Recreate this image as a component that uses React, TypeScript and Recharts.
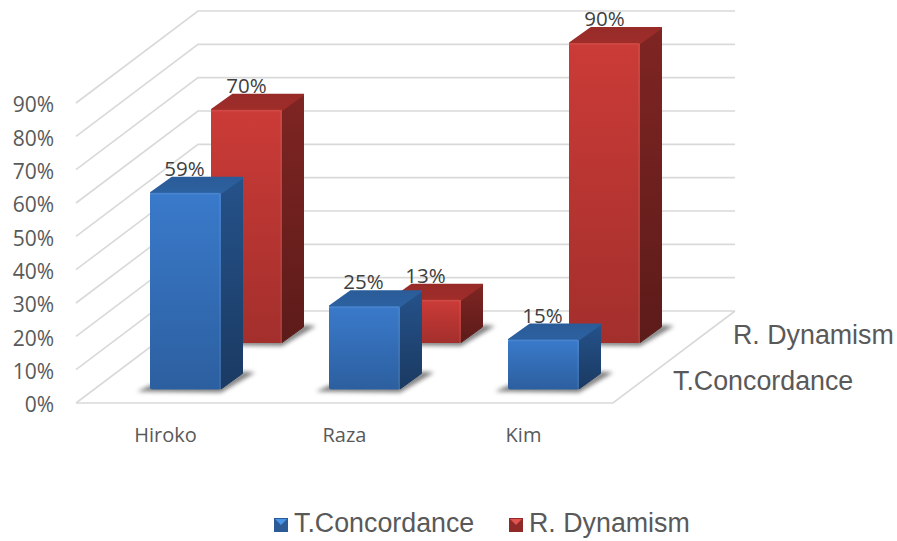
import { BarChart, Bar, XAxis, YAxis, CartesianGrid, LabelList, Legend } from 'recharts'

const CATEGORIES = ['Hiroko', 'Raza', 'Kim']
const T_CONCORDANCE = [59, 25, 15]
const R_DYNAMISM = [70, 13, 90]
const PERCENT_TICKS = [0, 10, 20, 30, 40, 50, 60, 70, 80, 90]

const CHART_DATA = CATEGORIES.map((name, i) => ({
  name,
  concordance: T_CONCORDANCE[i],
  dynamism: R_DYNAMISM[i],
}))

const TICK_FONT = 'Open Sans'
const LEGEND_FONT = 'Liberation Sans'

// how far the floor recedes from the front edge to the back wall
const WALL_DX = 122
const WALL_DY = 92

// each bar's own depth on its face
const BAR_DX = 22
const BAR_DY = 16

// where each row of bars stands on the floor, relative to the front edge
const ROWS = {
  blue: { shift: 20, lift: 13.5, labelShift: -1 },
  red: { shift: 81, lift: 60, labelShift: 0 },
}

const PALETTES = [
  { id: 'blue', front: ['#3a7acb', '#2c5f9f'], top: ['#2a5c99', '#2c619f'], side: ['#25528a', '#1a3a62'] },
  { id: 'red', front: ['#cb3b37', '#a32f2c'], top: ['#972b28', '#9f2d2a'], side: ['#7f2523', '#5c1b19'] },
]

function GridLine(props: any) {
  const { x1, x2, y1, index } = props
  const back = y1 - WALL_DY
  return (
    <g key={`wall-${index}`}>
      <path
        d={`M${x1},${y1} L${x1 + WALL_DX},${back} L${x2 + WALL_DX},${back}`}
        fill="none"
        stroke="#d9d9d9"
        strokeWidth={1.6}
      />
      {index === 0 && (
        <path
          d={`M${x1},${y1} L${x2},${y1} L${x2 + WALL_DX},${back}`}
          fill="none"
          stroke="#d9d9d9"
          strokeWidth={1.6}
        />
      )}
    </g>
  )
}

function Cuboid(props: any) {
  const { x, y, width, height, palette } = props
  const row = ROWS[palette as 'blue' | 'red']
  const fx = x + row.shift
  const fy = y - row.lift
  const base = fy + height
  const right = fx + width
  return (
    <g>
      <polygon
        points={`${fx - 13},${base + 2} ${right},${base + 3} ${right + BAR_DX + 12},${base - BAR_DY - 1} ${right + BAR_DX},${base - BAR_DY - 2} ${right},${base - 4} ${fx},${base - 4}`}
        fill="#555"
        opacity={0.75}
        filter="url(#floorShadow)"
      />
      <polygon
        points={`${right},${fy} ${right + BAR_DX - 0.5},${fy - BAR_DY + 0.5} ${right + BAR_DX - 0.5},${base - BAR_DY} ${right},${base - 0.5}`}
        fill={`url(#${palette}-side)`}
        stroke={`url(#${palette}-side)`}
        strokeWidth={1}
        strokeLinejoin="round"
      />
      <polygon
        points={`${fx + 1},${fy} ${fx + BAR_DX},${fy - BAR_DY + 1} ${right + BAR_DX - 1},${fy - BAR_DY + 1} ${right},${fy}`}
        fill={`url(#${palette}-top)`}
        stroke={`url(#${palette}-top)`}
        strokeWidth={2}
        strokeLinejoin="round"
      />
      <rect x={fx} y={fy} width={width} height={height} rx={2} fill={`url(#${palette}-front)`} />
      <path
        d={`M${fx + 1},${fy + 1} H${right - 1} V${base - 1}`}
        fill="none"
        stroke="#ffffff"
        strokeOpacity={0.08}
        strokeWidth={1.5}
      />
    </g>
  )
}

function ValueLabel(props: any) {
  const { x, y, width, value, palette } = props
  const row = ROWS[palette as 'blue' | 'red']
  return (
    <text
      x={x + width / 2 + row.shift + row.labelShift}
      y={y - row.lift - 25}
      textAnchor="middle"
      dominantBaseline="central"
      fill="#404040"
      fontSize={20.5}
      fontFamily={TICK_FONT}
    >
      {value}%
    </text>
  )
}

function LegendSwatch({ dark, light }: { dark: string; light: string }) {
  return (
    <svg width={14} height={14} style={{ display: 'block' }}>
      <rect width={14} height={14} fill={dark} />
      <polygon points="1,1 13,1 7,7" fill={light} />
    </svg>
  )
}

function SeriesLegend() {
  return (
    <div style={{ position: 'relative', height: 36, fontFamily: LEGEND_FONT, fontSize: 26.8, color: '#595959' }}>
      <div style={{ position: 'absolute', left: 274, top: 13 }}>
        <LegendSwatch dark="#2b5a97" light="#4a94e6" />
      </div>
      <span style={{ position: 'absolute', left: 294, top: 3 }}>T.Concordance</span>
      <div style={{ position: 'absolute', left: 509, top: 13 }}>
        <LegendSwatch dark="#8f2a28" light="#e0534e" />
      </div>
      <span style={{ position: 'absolute', left: 529, top: 3 }}>R. Dynamism</span>
    </div>
  )
}

export default function App() {
  return (
    <div style={{ position: 'absolute', left: 0, top: 0, width: 897, height: 541, background: '#fff' }}>
      <BarChart
        width={897}
        height={541}
        data={CHART_DATA}
        margin={{ top: 103, right: 284, bottom: 108, left: 0 }}
        barSize={71}
        barGap={-71}
      >
        <defs>
          <filter id="floorShadow" x="-30%" y="-60%" width="160%" height="220%">
            <feGaussianBlur stdDeviation="2.2" />
          </filter>
          {PALETTES.flatMap(p =>
            (['front', 'top', 'side'] as const).map(face => (
              <linearGradient key={`${p.id}-${face}`} id={`${p.id}-${face}`} x1="0" y1="0" x2="0" y2="1">
                <stop offset="0%" stopColor={p[face][0]} />
                <stop offset="100%" stopColor={p[face][1]} />
              </linearGradient>
            ))
          )}
        </defs>
        <CartesianGrid vertical={false} horizontal={GridLine} horizontalValues={PERCENT_TICKS} />
        <XAxis
          dataKey="name"
          axisLine={false}
          tickLine={false}
          tickSize={0}
          tickMargin={25}
          tick={{ fill: '#595959', fontSize: 20, fontFamily: TICK_FONT }}
        />
        <YAxis
          width={76}
          domain={[0, 90]}
          ticks={PERCENT_TICKS}
          interval={0}
          axisLine={false}
          tickLine={false}
          tickSize={0}
          tickMargin={22}
          tickFormatter={(v: number) => `${v}%`}
          tick={{ fill: '#595959', fontSize: 21, fontFamily: TICK_FONT, dy: 2 }}
        />
        {/* back row goes first so the front row covers it */}
        <Bar
          dataKey="dynamism"
          name="R. Dynamism"
          fill="#c0392b"
          isAnimationActive={false}
          shape={(p: any) => <Cuboid {...p} palette="red" />}
        >
          <LabelList dataKey="dynamism" content={(p: any) => <ValueLabel {...p} palette="red" />} />
        </Bar>
        <Bar
          dataKey="concordance"
          name="T.Concordance"
          fill="#3470bc"
          isAnimationActive={false}
          shape={(p: any) => <Cuboid {...p} palette="blue" />}
        >
          <LabelList dataKey="concordance" content={(p: any) => <ValueLabel {...p} palette="blue" />} />
        </Bar>
        <text x={733} y={335} dominantBaseline="central" fontFamily={LEGEND_FONT} fontSize={26.8} fill="#595959">
          R. Dynamism
        </text>
        <text x={673} y={381} dominantBaseline="central" fontFamily={LEGEND_FONT} fontSize={26.8} fill="#595959">
          T.Concordance
        </text>
        <Legend
          layout="horizontal"
          align="center"
          verticalAlign="middle"
          wrapperStyle={{ left: 0, top: 505, width: 897 }}
          content={() => <SeriesLegend />}
        />
      </BarChart>
    </div>
  )
}
